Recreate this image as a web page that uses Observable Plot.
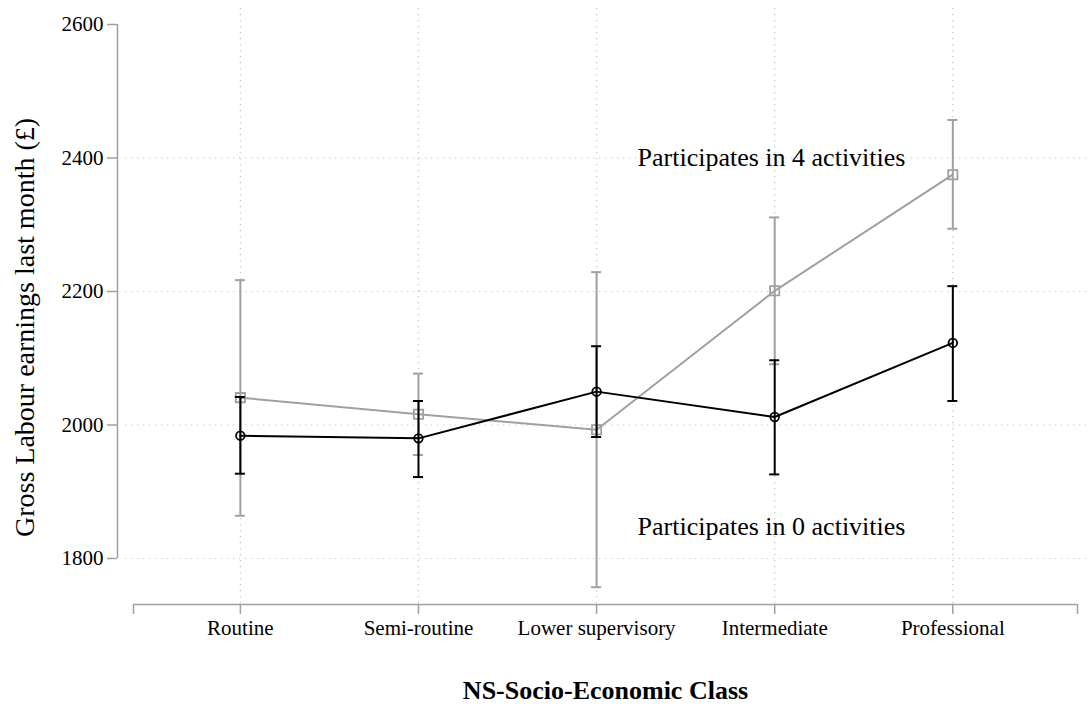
<!DOCTYPE html>
<html>
<head>
<meta charset="utf-8">
<script src="https://cdn.jsdelivr.net/npm/d3@7"></script>
<script src="https://cdn.jsdelivr.net/npm/@observablehq/plot@0.6"></script>
<style>
  html, body { margin: 0; padding: 0; background: #fff; }
</style>
</head>
<body>
<div id="chart"></div>
<script>
const classes = ["Routine", "Semi-routine", "Lower supervisory", "Intermediate", "Professional"];
const act4Mean = [2041, 2016, 1993, 2201, 2375];
const act4Lo   = [1864, 1955, 1757, 2091, 2294];
const act4Hi   = [2217, 2077, 2229, 2311, 2457];
const act0Mean = [1984, 1980, 2050, 2012, 2123];
const act0Lo   = [1927, 1922, 1982, 1926, 2036];
const act0Hi   = [2042, 2036, 2118, 2097, 2208];
const yTicks = [1800, 2000, 2200, 2400, 2600];
const yGrid = [1800, 2000, 2200, 2400];
const annotations = [
  {text: "Participates in 4 activities", x: 3.23, y: 2400},
  {text: "Participates in 0 activities", x: 3.23, y: 1848}
];

const gray = "#a0a0a0";
const gridColor = "#c4c4c4";
const axisColor = "#a0a0a0";

const s4 = classes.map((c, i) => ({pos: i + 1, mean: act4Mean[i], lo: act4Lo[i], hi: act4Hi[i]}));
const s0 = classes.map((c, i) => ({pos: i + 1, mean: act0Mean[i], lo: act0Lo[i], hi: act0Hi[i]}));
const xTickPos = [0.4, 1, 2, 3, 4, 5, 5.7];

const chart = Plot.plot({
  width: 1088,
  height: 707,
  marginLeft: 133,
  marginRight: 11,
  marginTop: 24,
  marginBottom: 149,
  style: {fontFamily: "'Liberation Serif', 'Times New Roman', serif", background: "#fff"},
  x: {type: "linear", domain: [0.4, 5.7]},
  y: {domain: [1800, 2600]},
  marks: [
    // grid
    Plot.ruleY(yGrid, {stroke: gridColor, strokeWidth: 1.2, strokeDasharray: "1.2,4.8", insetLeft: -8, insetRight: -11}),
    Plot.ruleX([1, 2, 3, 4, 5], {stroke: gridColor, strokeWidth: 1.2, strokeDasharray: "1.2,4.8", insetTop: -16, insetBottom: -46}),
    // axis lines
    Plot.ruleX([0.4], {dx: -16, stroke: axisColor, strokeWidth: 1.5}),
    Plot.ruleY([1800], {dy: 46, stroke: axisColor, strokeWidth: 1.5}),
    Plot.axisY({ticks: yTicks, tickFormat: "d", tickSize: 10, tickPadding: 4, dx: -16, fontSize: 21, stroke: axisColor, strokeWidth: 1.5, color: "#000", label: null}),
    Plot.axisX({ticks: xTickPos, tickFormat: d => (Number.isInteger(d) ? classes[d - 1] : ""), tickSize: 10, tickPadding: 6, dy: 46, fontSize: 21, stroke: axisColor, strokeWidth: 1.5, color: "#000", label: null}),
    // series: 4 activities (gray)
    Plot.ruleX(s4, {x: "pos", y1: "lo", y2: "hi", stroke: gray, strokeWidth: 2}),
    Plot.ruleY(s4, {y: "lo", x1: "pos", x2: "pos", insetLeft: -5, insetRight: -5, stroke: gray, strokeWidth: 2}),
    Plot.ruleY(s4, {y: "hi", x1: "pos", x2: "pos", insetLeft: -5, insetRight: -5, stroke: gray, strokeWidth: 2}),
    Plot.line(s4, {x: "pos", y: "mean", stroke: gray, strokeWidth: 2}),
    Plot.dot(s4, {x: "pos", y: "mean", symbol: "square", r: 5.2, stroke: gray, strokeWidth: 1.8, fill: "none"}),
    // series: 0 activities (black)
    Plot.ruleX(s0, {x: "pos", y1: "lo", y2: "hi", stroke: "#000", strokeWidth: 2}),
    Plot.ruleY(s0, {y: "lo", x1: "pos", x2: "pos", insetLeft: -5, insetRight: -5, stroke: "#000", strokeWidth: 2}),
    Plot.ruleY(s0, {y: "hi", x1: "pos", x2: "pos", insetLeft: -5, insetRight: -5, stroke: "#000", strokeWidth: 2}),
    Plot.line(s0, {x: "pos", y: "mean", stroke: "#000", strokeWidth: 2}),
    Plot.dot(s0, {x: "pos", y: "mean", symbol: "circle", r: 4.3, stroke: "#000", strokeWidth: 1.8, fill: "none"}),
    // annotations
    Plot.text(annotations, {x: "x", y: "y", text: "text", textAnchor: "start", lineAnchor: "middle", fontSize: 26, fill: "#000"}),
    // axis titles
    Plot.text(["Gross Labour earnings last month (£)"], {frameAnchor: "left", dx: -108, dy: 36, rotate: -90, fontSize: 28, fill: "#000", lineAnchor: "middle", textAnchor: "middle"}),
    Plot.text(["NS-Socio-Economic Class"], {frameAnchor: "bottom", dy: 132, fontSize: 26, fontWeight: "bold", fill: "#000", lineAnchor: "middle", textAnchor: "middle"})
  ]
});
document.getElementById("chart").appendChild(chart);
</script>
</body>
</html>
